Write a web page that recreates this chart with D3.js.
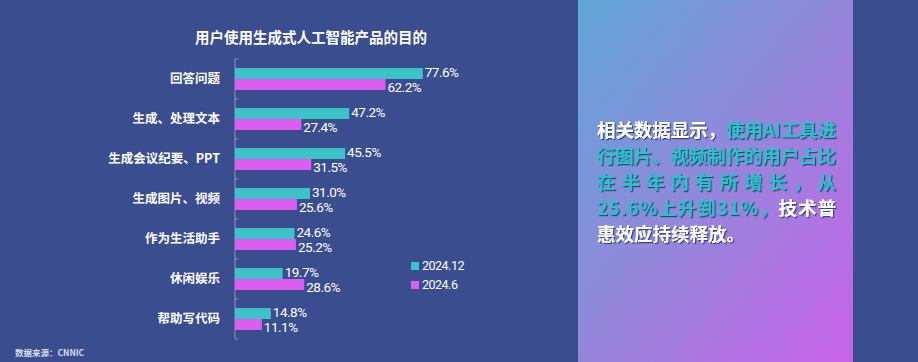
<!DOCTYPE html>
<html>
<head>
<meta charset="utf-8">
<script src="https://cdn.jsdelivr.net/npm/d3@7"></script>
<style>
  html, body { margin: 0; padding: 0; background: #3a4d8f; }
  svg { display: block; }
  text { font-family: "Noto Sans CJK SC", "Noto Sans", sans-serif; }
  .num { font-family: Roboto, "Liberation Sans", sans-serif; letter-spacing: -0.5px; }
</style>
</head>
<body>
<script>
var categories = ["回答问题", "生成、处理文本", "生成会议纪要、PPT", "生成图片、视频", "作为生活助手", "休闲娱乐", "帮助写代码"];
var values2412 = [77.6, 47.2, 45.5, 31.0, 24.6, 19.7, 14.8];
var values246 = [62.2, 27.4, 31.5, 25.6, 25.2, 28.6, 11.1];
var seriesNames = ["2024.12", "2024.6"];
var seriesColors = ["#3cc3c7", "#dc5def"];
var chartTitle = "用户使用生成式人工智能产品的目的";
var sourceText = "数据来源：CNNIC";

var width = 918, height = 362;

var svg = d3.select("body").append("svg")
  .attr("width", width)
  .attr("height", height);

svg.append("rect")
  .attr("width", width).attr("height", height)
  .attr("fill", "#3a4d8f");

var defs = svg.append("defs");
var grad = defs.append("linearGradient")
  .attr("id", "panelGrad")
  .attr("x1", "0%").attr("y1", "0%")
  .attr("x2", "100%").attr("y2", "100%");
grad.append("stop").attr("offset", "0%").attr("stop-color", "#5fa6d6");
grad.append("stop").attr("offset", "50%").attr("stop-color", "#9586dc");
grad.append("stop").attr("offset", "100%").attr("stop-color", "#c963e8");

var shadow = defs.append("filter").attr("id", "txtShadow")
  .attr("x", "-10%").attr("y", "-10%").attr("width", "130%").attr("height", "140%");
shadow.append("feDropShadow")
  .attr("dx", 1.2).attr("dy", 1.2).attr("stdDeviation", 0.6)
  .attr("flood-color", "#1d3a6a").attr("flood-opacity", 0.85);

// chart
var x = d3.scaleLinear().domain([0, 100]).range([235, 477]);
var y = d3.scaleBand().domain(categories).range([59, 339]).paddingInner(0.45).paddingOuter(0.225);

svg.append("text")
  .attr("x", 311).attr("y", 43)
  .attr("text-anchor", "middle")
  .attr("fill", "#ffffff")
  .attr("font-size", 14.5)
  .attr("font-weight", "bold")
  .text(chartTitle);

// axis line with ticks between categories
var axisG = svg.append("g").attr("transform", "translate(235,0)");
var tickYs = d3.range(categories.length + 1).map(function(i) { return 59 + i * 40; });
axisG.append("line")
  .attr("x1", 0).attr("x2", 0)
  .attr("y1", 59).attr("y2", 339)
  .attr("stroke", "#8d97b8").attr("stroke-width", 1);
axisG.selectAll("line.tick").data(tickYs).enter().append("line")
  .attr("class", "tick")
  .attr("x1", 0).attr("x2", 3)
  .attr("y1", function(d) { return d; }).attr("y2", function(d) { return d; })
  .attr("stroke", "#8d97b8");

var rows = categories.map(function(c, i) {
  return { cat: c, a: values2412[i], b: values246[i] };
});

var barH = y.bandwidth() / 2;

svg.selectAll("rect.barA").data(rows).enter().append("rect")
  .attr("class", "barA")
  .attr("x", x(0))
  .attr("y", function(d) { return y(d.cat); })
  .attr("width", function(d) { return x(d.a) - x(0); })
  .attr("height", barH)
  .attr("fill", seriesColors[0]);

svg.selectAll("rect.barB").data(rows).enter().append("rect")
  .attr("class", "barB")
  .attr("x", x(0))
  .attr("y", function(d) { return y(d.cat) + barH; })
  .attr("width", function(d) { return x(d.b) - x(0); })
  .attr("height", barH)
  .attr("fill", seriesColors[1]);

// category labels
svg.selectAll("text.cat").data(rows).enter().append("text")
  .attr("class", "cat")
  .attr("x", 220)
  .attr("y", function(d) { return y(d.cat) + barH; })
  .attr("dy", "0.35em")
  .attr("text-anchor", "end")
  .attr("fill", "#ffffff")
  .attr("font-size", 12.5)
  .attr("font-weight", "bold")
  .text(function(d) { return d.cat; });

// value labels
svg.selectAll("text.valA").data(rows).enter().append("text")
  .attr("class", "valA num")
  .attr("x", function(d) { return x(d.a) + 2; })
  .attr("y", function(d) { return y(d.cat) + barH / 2 - 1.5; })
  .attr("dy", "0.35em")
  .attr("fill", "#ffffff")
  .attr("font-size", 13.5)
  .text(function(d) { return d.a.toFixed(1) + "%"; });

svg.selectAll("text.valB").data(rows).enter().append("text")
  .attr("class", "valB num")
  .attr("x", function(d) { return x(d.b) + 2; })
  .attr("y", function(d) { return y(d.cat) + barH * 1.5 + 2.5; })
  .attr("dy", "0.35em")
  .attr("fill", "#ffffff")
  .attr("font-size", 13.5)
  .text(function(d) { return d.b.toFixed(1) + "%"; });

// legend
var legend = svg.selectAll("g.legend").data(seriesNames).enter().append("g")
  .attr("class", "legend")
  .attr("transform", function(d, i) { return "translate(411," + (262 + i * 19) + ")"; });
legend.append("rect")
  .attr("width", 8).attr("height", 8)
  .attr("fill", function(d, i) { return seriesColors[i]; });
legend.append("text")
  .attr("class", "num")
  .attr("x", 11).attr("y", 4)
  .attr("dy", "0.35em")
  .attr("fill", "#ffffff")
  .attr("font-size", 12.5)
  .text(function(d) { return d; });

// source
svg.append("text")
  .attr("x", 15).attr("y", 356)
  .attr("fill", "#d8dcea")
  .attr("font-size", 8.5)
  .attr("font-weight", "bold")
  .text(sourceText);

// right panel
svg.append("rect")
  .attr("x", 578).attr("y", 0)
  .attr("width", 275).attr("height", height)
  .attr("fill", "url(#panelGrad)");

var panelLines = [
  [["相关数据显示，", "#ffffff"], ["使用AI工具进", "#2cc2c9"]],
  [["行图片、视频制作的用户占比", "#2cc2c9"]],
  [["在半年内有所增长，从", "#2cc2c9"]],
  [["25.6%上升到31%，", "#2cc2c9"], ["技术普", "#ffffff"]],
  [["惠效应持续释放。", "#ffffff"]]
];

panelLines.forEach(function(line, i) {
  var t = svg.append("text")
    .attr("x", 597)
    .attr("y", 137 + i * 26)
    .attr("font-size", 18.5)
    .attr("font-weight", "bold")
    .attr("filter", "url(#txtShadow)");
  if (i < 4) {
    t.attr("textLength", 239).attr("lengthAdjust", "spacing");
  }
  line.forEach(function(seg) {
    t.append("tspan").attr("fill", seg[1]).text(seg[0]);
  });
});
</script>
</body>
</html>
